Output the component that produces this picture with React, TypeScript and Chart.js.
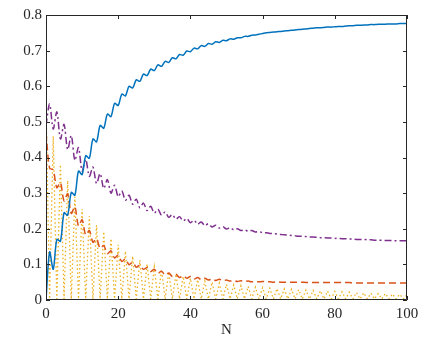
import React, { useEffect, useRef } from "react";
import { Chart, registerables } from "chart.js";

Chart.register(...registerables);

const N_VALUES = [
  0, 1, 2, 3, 4, 5, 6, 7, 8, 9,
  10, 11, 12, 13, 14, 15, 16, 17, 18, 19,
  20, 21, 22, 23, 24, 25, 26, 27, 28, 29,
  30, 31, 32, 33, 34, 35, 36, 37, 38, 39,
  40, 41, 42, 43, 44, 45, 46, 47, 48, 49,
  50, 51, 52, 53, 54, 55, 56, 57, 58, 59,
  60, 61, 62, 63, 64, 65, 66, 67, 68, 69,
  70, 71, 72, 73, 74, 75, 76, 77, 78, 79,
  80, 81, 82, 83, 84, 85, 86, 87, 88, 89,
  90, 91, 92, 93, 94, 95, 96, 97, 98, 99,
  100,
];

const BLUE = [
  0.000, 0.135, 0.086, 0.170, 0.165, 0.245, 0.238, 0.302, 0.294, 0.362,
  0.352, 0.405, 0.398, 0.452, 0.444, 0.490, 0.482, 0.522, 0.515, 0.552,
  0.546, 0.578, 0.573, 0.600, 0.595, 0.618, 0.614, 0.634, 0.630, 0.648,
  0.644, 0.660, 0.656, 0.670, 0.667, 0.680, 0.677, 0.689, 0.687, 0.699,
  0.697, 0.707, 0.705, 0.714, 0.712, 0.720, 0.718, 0.725, 0.723, 0.729,
  0.728, 0.733, 0.732, 0.736, 0.736, 0.740, 0.740, 0.743, 0.744, 0.746,
  0.748, 0.750, 0.751, 0.752, 0.753, 0.754, 0.755, 0.756, 0.757, 0.758,
  0.759, 0.760, 0.761, 0.762, 0.763, 0.764, 0.764, 0.765, 0.766, 0.766,
  0.767, 0.768, 0.768, 0.769, 0.770, 0.770, 0.771, 0.771, 0.772, 0.772,
  0.773, 0.773, 0.774, 0.774, 0.774, 0.775, 0.775, 0.775, 0.776, 0.776,
  0.776,
];

const ORANGE = [
  0.470, 0.370, 0.365, 0.315, 0.330, 0.278, 0.298, 0.243, 0.262, 0.208,
  0.225, 0.183, 0.195, 0.162, 0.172, 0.145, 0.153, 0.130, 0.138, 0.118,
  0.126, 0.108, 0.115, 0.099, 0.106, 0.092, 0.098, 0.086, 0.091, 0.080,
  0.086, 0.075, 0.081, 0.070, 0.076, 0.066, 0.072, 0.063, 0.068, 0.061,
  0.066, 0.059, 0.063, 0.057, 0.061, 0.056, 0.059, 0.055, 0.058, 0.054,
  0.056, 0.053, 0.055, 0.052, 0.054, 0.052, 0.053, 0.051, 0.052, 0.051,
  0.052, 0.051, 0.051, 0.050, 0.051, 0.050, 0.050, 0.050, 0.050, 0.050,
  0.050, 0.050, 0.049, 0.049, 0.049, 0.049, 0.049, 0.049, 0.049, 0.049,
  0.049, 0.049, 0.049, 0.049, 0.049, 0.048, 0.048, 0.048, 0.048, 0.048,
  0.048, 0.048, 0.048, 0.048, 0.048, 0.048, 0.048, 0.048, 0.048, 0.048,
  0.048,
];

const YELLOW = [
  0.550, 0.003, 0.460, 0.003, 0.380, 0.003, 0.335, 0.003, 0.290, 0.003,
  0.255, 0.003, 0.235, 0.003, 0.210, 0.003, 0.192, 0.003, 0.172, 0.003,
  0.155, 0.003, 0.137, 0.003, 0.123, 0.003, 0.112, 0.003, 0.101, 0.003,
  0.092, 0.003, 0.085, 0.003, 0.078, 0.003, 0.072, 0.003, 0.066, 0.003,
  0.061, 0.003, 0.057, 0.003, 0.053, 0.003, 0.050, 0.003, 0.047, 0.003,
  0.044, 0.003, 0.042, 0.003, 0.040, 0.003, 0.038, 0.003, 0.036, 0.003,
  0.035, 0.003, 0.033, 0.003, 0.032, 0.003, 0.031, 0.003, 0.030, 0.003,
  0.029, 0.003, 0.028, 0.003, 0.027, 0.003, 0.026, 0.003, 0.025, 0.003,
  0.024, 0.003, 0.023, 0.003, 0.022, 0.003, 0.021, 0.003, 0.020, 0.003,
  0.019, 0.003, 0.018, 0.003, 0.018, 0.003, 0.017, 0.003, 0.016, 0.003,
  0.015,
];

const PURPLE = [
  0.490, 0.550, 0.480, 0.528, 0.452, 0.493, 0.422, 0.462, 0.392, 0.428,
  0.362, 0.395, 0.347, 0.373, 0.327, 0.355, 0.313, 0.338, 0.300, 0.322,
  0.290, 0.306, 0.280, 0.294, 0.269, 0.283, 0.259, 0.272, 0.251, 0.263,
  0.244, 0.255, 0.238, 0.247, 0.232, 0.240, 0.227, 0.234, 0.222, 0.229,
  0.217, 0.224, 0.213, 0.219, 0.209, 0.214, 0.205, 0.210, 0.202, 0.206,
  0.199, 0.203, 0.197, 0.200, 0.195, 0.197, 0.193, 0.195, 0.191, 0.192,
  0.189, 0.189, 0.187, 0.187, 0.185, 0.184, 0.183, 0.182, 0.181, 0.180,
  0.179, 0.179, 0.178, 0.177, 0.177, 0.176, 0.175, 0.175, 0.174, 0.174,
  0.173, 0.173, 0.172, 0.172, 0.171, 0.171, 0.170, 0.170, 0.170, 0.169,
  0.169, 0.168, 0.168, 0.168, 0.167, 0.167, 0.167, 0.166, 0.166, 0.166,
  0.166,
];

const X_TICKS = [0, 20, 40, 60, 80, 100];
const Y_TICKS = [0, 0.1, 0.2, 0.3, 0.4, 0.5, 0.6, 0.7, 0.8];
const X_TITLE = "N";

const AXIS_COLOR = "#262626";
const FONT_FAMILY = "'Liberation Serif', 'Times New Roman', serif";

const toPoints = (vals: number[]) => vals.map((v, i) => ({ x: N_VALUES[i], y: v }));

const boxPlugin = {
  id: "matlabBox",
  afterDraw(chart: any) {
    const { ctx, chartArea } = chart;
    const { left, right, top, bottom } = chartArea;
    const xs = chart.scales.x;
    const ys = chart.scales.y;
    const tl = 4;
    ctx.save();
    ctx.strokeStyle = AXIS_COLOR;
    ctx.lineWidth = 1;
    ctx.setLineDash([]);
    ctx.beginPath();
    ctx.rect(left + 0.5, top + 0.5, right - left - 1, bottom - top - 1);
    ctx.stroke();
    ctx.beginPath();
    for (const t of X_TICKS) {
      const px = Math.round(xs.getPixelForValue(t)) + 0.5;
      ctx.moveTo(px, bottom);
      ctx.lineTo(px, bottom - tl);
      ctx.moveTo(px, top);
      ctx.lineTo(px, top + tl);
    }
    for (const t of Y_TICKS) {
      const py = Math.round(ys.getPixelForValue(t)) + 0.5;
      ctx.moveTo(left, py);
      ctx.lineTo(left + tl, py);
      ctx.moveTo(right, py);
      ctx.lineTo(right - tl, py);
    }
    ctx.stroke();
    ctx.restore();
  },
};

export default function App() {
  const canvasRef = useRef<HTMLCanvasElement | null>(null);

  useEffect(() => {
    document.body.style.margin = "0";
    const canvas = canvasRef.current;
    if (!canvas) return;
    const chart = new Chart(canvas, {
      type: "line",
      data: {
        datasets: [
          {
            label: "s1",
            data: toPoints(BLUE),
            borderColor: "#0072BD",
            borderWidth: 1.5,
            pointRadius: 0,
            tension: 0.3,
            order: 0,
          },
          {
            label: "s2",
            data: toPoints(ORANGE),
            borderColor: "#D95319",
            borderWidth: 1.5,
            borderDash: [7, 4],
            pointRadius: 0,
            tension: 0.3,
            order: 2,
          },
          {
            label: "s3",
            data: toPoints(YELLOW),
            borderColor: "#EDB120",
            borderWidth: 1.3,
            borderDash: [1.5, 2.5],
            pointRadius: 0,
            tension: 0,
            order: 3,
          },
          {
            label: "s4",
            data: toPoints(PURPLE),
            borderColor: "#7E2F8E",
            borderWidth: 1.5,
            borderDash: [7, 3, 2, 3],
            pointRadius: 0,
            tension: 0.3,
            order: 1,
          },
        ],
      },
      options: {
        animation: false,
        responsive: false,
        devicePixelRatio: 1,
        layout: { padding: { top: 15, right: 29, left: 0, bottom: 0 } },
        plugins: {
          legend: { display: false },
          tooltip: { enabled: false },
        },
        scales: {
          x: {
            type: "linear",
            min: 0,
            max: 100,
            afterFit: (s: any) => {
              s.height = 44;
            },
            afterBuildTicks: (s: any) => {
              s.ticks = X_TICKS.map((v) => ({ value: v }));
            },
            ticks: {
              color: AXIS_COLOR,
              font: { family: FONT_FAMILY, size: 15 },
              padding: 5,
              maxRotation: 0,
              callback: (v: any) => String(v),
            },
            grid: { display: false, drawTicks: false },
            border: { display: false },
            title: {
              display: true,
              text: X_TITLE,
              color: AXIS_COLOR,
              font: { family: FONT_FAMILY, size: 15 },
              padding: { top: 0, bottom: 5 },
            },
          },
          y: {
            type: "linear",
            min: 0,
            max: 0.8,
            afterFit: (s: any) => {
              s.width = 46;
            },
            afterBuildTicks: (s: any) => {
              s.ticks = Y_TICKS.map((v) => ({ value: v }));
            },
            ticks: {
              color: AXIS_COLOR,
              font: { family: FONT_FAMILY, size: 15 },
              padding: 4,
              callback: (v: any) => String(Math.round(Number(v) * 10) / 10),
            },
            grid: { display: false, drawTicks: false },
            border: { display: false },
          },
        },
      },
      plugins: [boxPlugin],
    });
    return () => chart.destroy();
  }, []);

  return (
    <div style={{ position: "absolute", left: 0, top: 0, width: 436, height: 344, background: "#fff" }}>
      <canvas ref={canvasRef} width={436} height={344} style={{ display: "block" }} />
    </div>
  );
}
